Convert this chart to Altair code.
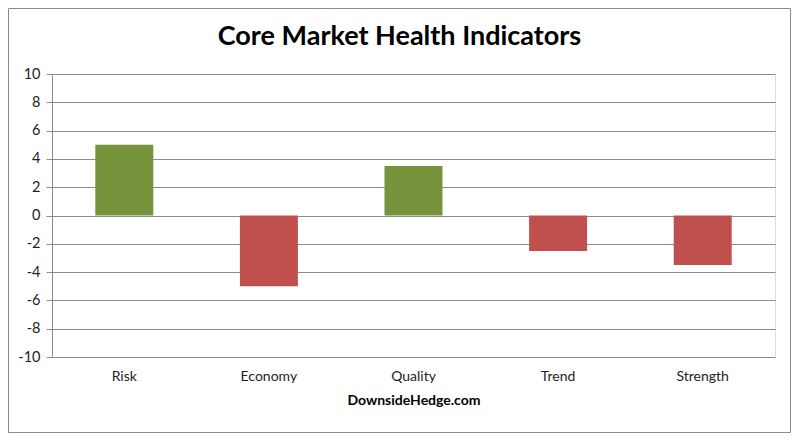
import altair as alt
import pandas as pd

categories = ["Risk", "Economy", "Quality", "Trend", "Strength"]
values = [5, -5, 3.5, -2.5, -3.5]
y_ticks = [-10, -8, -6, -4, -2, 0, 2, 4, 6, 8, 10]
title_text = "Core Market Health Indicators"

df = pd.DataFrame({"cat": categories, "val": values})
df["color"] = ["#77933C" if v >= 0 else "#C0504D" for v in values]

W, H = 723, 283
PL, PT, PR, PB = 44, 66, 16, 76
FONT = "Lato"

bars = alt.Chart(df).mark_bar(size=58).encode(
    x=alt.X("cat:N", sort=categories,
            scale=alt.Scale(paddingInner=0.6, paddingOuter=0.3),
            axis=alt.Axis(title="DownsideHedge.com", labelAngle=0, ticks=False,
                          domain=False, labelPadding=12, titlePadding=10,
                          labelFont=FONT, labelFontSize=14, labelColor="#222",
                          titleFont=FONT, titleFontSize=14, titleFontWeight="bold",
                          titleColor="#000")),
    y=alt.Y("val:Q", scale=alt.Scale(domain=[-10, 10], nice=False),
            axis=alt.Axis(title=None, values=y_ticks, grid=True, gridColor="#8a8a8a",
                          domainColor="#8a8a8a", tickColor="#8a8a8a", tickSize=6,
                          labelPadding=6, labelFont=FONT, labelFontSize=14.5,
                          labelColor="#222", labelExpr="'' + datum.value")),
    color=alt.Color("color:N", scale=None),
)

border = alt.Chart(pd.DataFrame({"a": [0]})).mark_rect(
    fill=None, stroke="#8a8a8a", strokeWidth=1, clip=False
).encode(
    x=alt.value(-PL + 0.5), x2=alt.value(W + PR - 0.5),
    y=alt.value(-PT + 0.5), y2=alt.value(H + PB - 0.5),
)

title = alt.Chart(pd.DataFrame({"t": [title_text]})).mark_text(
    font=FONT, fontSize=27, fontWeight="bold", color="#000",
    align="center", baseline="middle", clip=False
).encode(
    text="t:N", x=alt.value(W / 2 - 14), y=alt.value(-PT + 29),
)

chart = alt.layer(bars, border, title).properties(
    width=W, height=H,
    padding={"left": PL, "top": PT, "right": PR, "bottom": PB},
    autosize=alt.AutoSizeParams(type="none"),
).configure_view(stroke=None).configure(background="white")

chart.save("out.html", embed_options={"renderer": "svg", "actions": False})
